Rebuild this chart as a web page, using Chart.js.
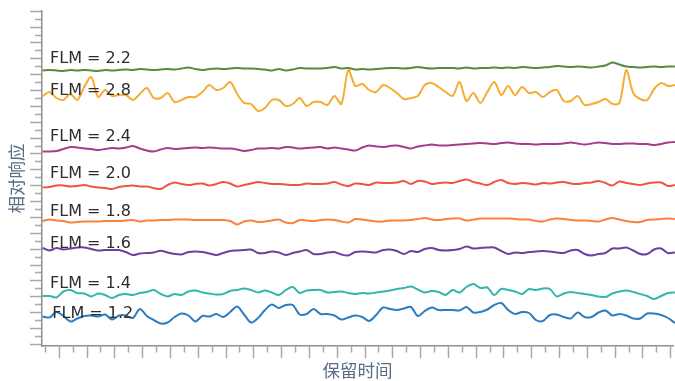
<!DOCTYPE html>
<html>
<head>
<meta charset="utf-8">
<script src="https://cdn.jsdelivr.net/npm/chart.js@4.4.1/dist/chart.umd.min.js"></script>
<style>
  html, body { margin: 0; padding: 0; background: #ffffff; }
  #wrap { width: 675px; height: 381px; }
</style>
</head>
<body>
<div id="wrap"><canvas id="chart" width="675" height="381"></canvas></div>
<script>
// Retention-time sampling grid (min), shared by every trace
const retentionTimes = Array.from({ length: 92 }, (_, i) => 0.4 + 0.25 * i);

// Series names, drawn as in-plot labels
const seriesNames = ['FLM = 2.2', 'FLM = 2.8', 'FLM = 2.4', 'FLM = 2.0', 'FLM = 1.8', 'FLM = 1.6', 'FLM = 1.4', 'FLM = 1.2'];

// Relative response of each trace (stacked with vertical offsets)
const flm22 = [27.55, 27.6, 27.55, 27.5, 27.6, 27.55, 27.6, 27.55, 27.5, 27.6,
  27.55, 27.6, 27.65, 27.6, 27.7, 27.65, 27.6, 27.65, 27.7, 27.65,
  27.75, 27.85, 27.7, 27.6, 27.7, 27.75, 27.7, 27.75, 27.8, 27.75,
  27.75, 27.7, 27.65, 27.55, 27.7, 27.55, 27.65, 27.8, 27.75, 27.75,
  27.75, 27.8, 27.9, 27.75, 27.8, 27.65, 27.7, 27.65, 27.7, 27.75,
  27.8, 27.8, 27.75, 27.8, 27.9, 27.8, 27.75, 27.8, 27.8, 27.8,
  27.75, 27.85, 27.75, 27.8, 27.8, 27.85, 27.8, 27.85, 27.8, 27.9,
  27.85, 27.8, 27.85, 27.9, 28.0, 27.95, 27.9, 27.95, 27.9, 27.85,
  27.95, 28.05, 28.35, 28.15, 27.95, 27.9, 27.85, 27.9, 27.95, 27.9,
  27.95, 27.95];
const flm28 = [25.0, 25.4, 24.8, 24.6, 25.2, 24.6, 25.9, 26.9, 24.9, 25.6,
  25.0, 25.1, 25.1, 24.6, 25.2, 25.8, 24.8, 24.8, 25.3, 24.4,
  24.6, 24.9, 24.9, 25.4, 26.1, 25.6, 25.8, 26.4, 25.2, 24.3,
  24.2, 23.5, 23.8, 24.6, 24.6, 24.0, 24.2, 24.8, 24.0, 24.4,
  24.4, 24.1, 25.0, 24.2, 27.6, 26.0, 26.2, 25.6, 25.4, 26.1,
  25.8, 25.3, 24.7, 24.8, 25.0, 26.1, 26.3, 25.9, 25.4, 25.0,
  26.4, 24.5, 25.3, 24.3, 25.4, 26.4, 25.1, 26.0, 25.1, 25.9,
  25.3, 25.4, 24.9, 25.4, 25.6, 24.5, 24.5, 25.0, 24.1, 24.2,
  24.4, 24.7, 24.2, 24.3, 27.6, 25.3, 24.7, 24.6, 25.7, 26.3,
  26.0, 26.1];
const flm24 = [19.45, 19.45, 19.5, 19.7, 19.9, 19.85, 19.75, 19.7, 19.6, 19.7,
  19.8, 19.75, 19.85, 20.0, 19.75, 19.55, 19.45, 19.65, 19.8, 19.7,
  19.75, 19.8, 19.85, 19.8, 19.85, 19.8, 19.75, 19.75, 19.65, 19.5,
  19.6, 19.75, 19.75, 19.8, 19.75, 19.9, 19.85, 19.75, 19.8, 19.85,
  19.9, 19.75, 19.85, 19.75, 19.65, 19.55, 19.85, 20.05, 19.95, 19.9,
  20.0, 20.05, 19.9, 19.75, 19.95, 20.05, 20.15, 20.05, 20.05, 20.1,
  20.15, 20.2, 20.25, 20.3, 20.25, 20.2, 20.3, 20.35, 20.25, 20.2,
  20.2, 20.15, 20.2, 20.2, 20.2, 20.25, 20.35, 20.25, 20.15, 20.25,
  20.35, 20.3, 20.2, 20.2, 20.25, 20.25, 20.2, 20.2, 20.1, 20.2,
  20.35, 20.4];
const flm20 = [15.85, 15.9, 16.05, 16.05, 15.95, 16.0, 16.1, 15.95, 15.85, 15.8,
  15.7, 15.9, 16.0, 16.05, 15.95, 15.95, 15.8, 15.7, 16.1, 16.35,
  16.2, 16.1, 16.2, 16.25, 16.05, 16.2, 16.4, 16.25, 15.95, 16.1,
  16.25, 16.4, 16.3, 16.2, 16.2, 16.15, 16.1, 16.1, 16.25, 16.2,
  16.2, 16.25, 16.4, 16.15, 16.0, 16.25, 16.2, 16.1, 16.35, 16.3,
  16.3, 16.35, 16.5, 16.2, 16.5, 16.45, 16.2, 16.3, 16.35, 16.3,
  16.5, 16.65, 16.4, 16.25, 16.1, 16.4, 16.6, 16.3, 16.2, 16.3,
  16.25, 16.15, 16.3, 16.25, 16.35, 16.4, 16.25, 16.2, 16.3, 16.35,
  16.5, 16.3, 16.05, 16.45, 16.3, 16.2, 16.1, 16.25, 16.35, 16.35,
  16.0, 16.1];
const flm18 = [12.5, 12.65, 12.55, 12.5, 12.35, 12.4, 12.45, 12.45, 12.45, 12.5,
  12.5, 12.5, 12.55, 12.6, 12.45, 12.55, 12.55, 12.6, 12.6, 12.65,
  12.65, 12.65, 12.6, 12.6, 12.6, 12.6, 12.6, 12.5, 12.15, 12.45,
  12.55, 12.4, 12.45, 12.55, 12.65, 12.35, 12.3, 12.6, 12.55, 12.5,
  12.6, 12.65, 12.6, 12.45, 12.35, 12.7, 12.65, 12.55, 12.45, 12.45,
  12.55, 12.55, 12.55, 12.6, 12.7, 12.8, 12.65, 12.6, 12.7, 12.75,
  12.75, 12.55, 12.65, 12.75, 12.75, 12.75, 12.75, 12.75, 12.7, 12.65,
  12.65, 12.5, 12.45, 12.65, 12.75, 12.7, 12.6, 12.55, 12.55, 12.5,
  12.45, 12.65, 12.8, 12.65, 12.5, 12.4, 12.4, 12.6, 12.65, 12.7,
  12.75, 12.7];
const flm16 = [9.8, 9.55, 9.8, 9.65, 9.75, 9.85, 9.85, 9.7, 9.55, 9.6,
  9.6, 9.6, 9.4, 9.1, 9.25, 9.3, 9.35, 9.53, 9.35, 9.2,
  9.15, 9.4, 9.45, 9.4, 9.25, 9.1, 9.3, 9.5, 9.55, 9.6,
  9.65, 9.3, 9.3, 9.45, 9.35, 9.1, 9.3, 9.45, 9.6, 9.2,
  9.2, 9.35, 9.4, 9.15, 9.05, 9.4, 9.45, 9.4, 9.35, 9.6,
  9.65, 9.5, 9.2, 9.5, 9.4, 9.7, 9.8, 9.6, 9.55, 9.6,
  9.7, 9.95, 9.75, 9.8, 9.85, 9.85, 9.5, 9.2, 9.35, 9.3,
  9.4, 9.45, 9.5, 9.45, 9.35, 9.3, 9.55, 9.6, 9.2, 9.05,
  9.2, 9.3, 9.75, 9.75, 9.85, 9.55, 9.2, 9.2, 9.65, 9.75,
  9.3, 9.35];
const flm14 = [5.0, 5.0, 4.85, 5.45, 5.6, 5.3, 5.25, 4.95, 5.25, 5.1,
  4.8, 5.1, 5.2, 5.1, 5.3, 5.4, 5.6, 5.2, 4.95, 5.2,
  5.1, 5.45, 5.55, 5.35, 5.25, 5.15, 5.2, 5.5, 5.6, 5.75,
  5.6, 5.35, 5.55, 5.35, 5.1, 5.6, 5.9, 5.3, 5.55, 5.6,
  5.6, 5.35, 5.4, 5.45, 5.3, 5.2, 5.3, 5.25, 5.35, 5.45,
  5.55, 5.7, 5.8, 5.95, 5.65, 5.35, 5.5, 5.4, 5.1, 5.6,
  5.35, 5.9, 6.2, 5.8, 5.85, 5.1, 5.7, 5.6, 5.45, 5.2,
  5.7, 5.6, 5.75, 5.7, 4.95, 5.25, 5.4, 5.3, 5.2, 5.1,
  4.95, 4.9, 5.25, 5.45, 5.55, 5.4, 5.2, 5.0, 4.7, 5.0,
  5.3, 5.35];
const flm12 = [2.95, 2.85, 3.4, 3.0, 2.45, 2.75, 3.0, 3.05, 2.95, 3.15,
  2.65, 3.05, 3.05, 2.8, 3.7, 3.0, 2.6, 2.25, 2.35, 2.9,
  3.25, 3.05, 2.45, 3.0, 2.95, 3.2, 2.9, 3.4, 3.95, 3.15,
  2.35, 2.8, 3.6, 4.15, 3.8, 4.1, 4.1, 3.15, 3.2, 3.7,
  3.2, 3.2, 3.05, 2.65, 2.85, 3.05, 2.9, 2.5, 3.1, 3.85,
  3.7, 3.6, 3.75, 3.9, 3.0, 3.5, 3.85, 3.6, 3.6, 3.6,
  3.55, 3.9, 3.35, 3.4, 3.65, 4.1, 4.3, 3.6, 3.2, 3.4,
  3.3, 2.6, 2.5, 3.1, 3.15, 2.9, 2.75, 3.35, 2.9, 2.9,
  3.35, 3.55, 3.05, 3.2, 3.05, 2.75, 2.75, 3.25, 3.25, 3.1,
  2.8, 2.3];

// Label anchors (retention time, response level at text baseline)
const labelTimes = [0.67, 0.67, 0.67, 0.67, 0.67, 0.67, 0.67, 0.75];
const labelLevels = [28.27, 25.1, 20.53, 16.77, 13.0, 9.81, 5.83, 2.83];

// Axis tick positions: x every 0.5 min, y every 0.793 response units
const xTickValues = Array.from({ length: 46 }, (_, k) => 0.5 + 0.5 * k);
const yTickValues = Array.from({ length: 43 }, (_, k) => 0.17 + 0.793 * k);

const seriesValues = [flm22, flm28, flm24, flm20, flm18, flm16, flm14, flm12];
const seriesColors = ['#588a3f', '#f7ab30', '#a53c8d', '#ef5442', '#f8843a', '#6a40a0', '#33b5b0', '#2a7dc2'];

const titleColor = '#5c6c84';
const cjkFont = '"Noto Sans CJK SC", "Noto Sans", sans-serif';

const flmLabels = {
  id: 'flmLabels',
  afterDatasetsDraw(chart) {
    const { ctx, scales: { x, y } } = chart;
    ctx.save();
    ctx.font = '16px "DejaVu Sans", sans-serif';
    ctx.fillStyle = '#2d2d2d';
    ctx.textAlign = 'left';
    ctx.textBaseline = 'alphabetic';
    seriesNames.forEach((name, i) => {
      ctx.fillText(name, x.getPixelForValue(labelTimes[i]), y.getPixelForValue(labelLevels[i]));
    });
    ctx.restore();
  }
};

const datasets = seriesValues.map((vals, s) => ({
  label: seriesNames[s],
  data: vals.map((v, i) => ({ x: retentionTimes[i], y: v })),
  borderColor: seriesColors[s],
  backgroundColor: seriesColors[s],
  borderWidth: 2,
  pointRadius: 0,
  tension: 0.3,
  fill: false,
  clip: false,
  order: s === 1 ? -1 : s
}));

new Chart(document.getElementById('chart'), {
  type: 'line',
  data: { datasets },
  plugins: [flmLabels],
  options: {
    responsive: false,
    animation: false,
    devicePixelRatio: 1,
    layout: { padding: { top: 11, right: 2, left: 0, bottom: 0 } },
    plugins: { legend: { display: false }, tooltip: { enabled: false } },
    scales: {
      x: {
        type: 'linear',
        min: 0.38,
        max: 23.08,
        afterBuildTicks: s => { s.ticks = xTickValues.map(v => ({ value: v })); },
        afterFit: s => { s.height = 35; },
        ticks: { display: false },
        grid: {
          drawOnChartArea: false,
          drawTicks: true,
          tickLength: 12,
          tickWidth: 1.5,
          tickColor: '#a8a8a8',
          tickBorderDash: ctx => (Math.abs(ctx.tick.value - Math.round(ctx.tick.value)) < 1e-6 ? [] : [6, 30])
        },
        border: { display: true, color: '#8e8e8e', width: 1.5 },
        title: {
          display: true,
          text: '保留时间',
          color: titleColor,
          font: { family: cjkFont, size: 17.5 },
          padding: { top: 0, bottom: 0 }
        }
      },
      y: {
        type: 'linear',
        min: 0,
        max: 33.5,
        afterBuildTicks: s => { s.ticks = yTickValues.map(v => ({ value: v })); },
        afterFit: s => { s.width = 42; },
        ticks: { display: false },
        grid: {
          drawOnChartArea: false,
          drawTicks: true,
          tickLength: 12,
          tickWidth: 1.5,
          tickColor: '#a8a8a8',
          tickBorderDash: ctx => (ctx.index % 2 === 0 ? [] : [0, 5, 7, 30])
        },
        border: { display: true, color: '#8e8e8e', width: 1.5 },
        title: {
          display: true,
          text: '相对响应',
          color: titleColor,
          font: { family: cjkFont, size: 17.5 },
          padding: { top: 5.5, bottom: 0 }
        }
      }
    }
  }
});
</script>
</body>
</html>
